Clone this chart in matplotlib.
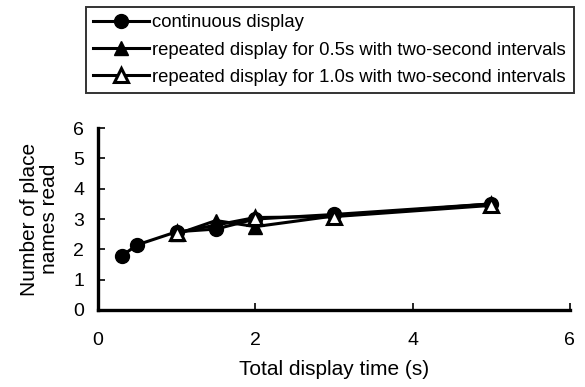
import matplotlib
matplotlib.use("Agg")
import matplotlib.pyplot as plt

plt.rcParams['font.family'] = ['Liberation Sans', 'DejaVu Sans']

# values
cont_x = [0.3, 0.5, 1.0, 1.5, 2.0, 3.0, 5.0]
cont_y = [1.78, 2.15, 2.58, 2.67, 3.0, 3.15, 3.5]
rep05_x = [1.0, 1.5, 2.0, 3.0, 5.0]
rep05_y = [2.5, 2.95, 2.75, 3.1, 3.5]
rep10_x = [1.0, 2.0, 3.0, 5.0]
rep10_y = [2.55, 3.05, 3.08, 3.45]

labels = ['continuous display',
          'repeated display for 0.5s with two-second intervals',
          'repeated display for 1.0s with two-second intervals']

fig = plt.figure(figsize=(5.85, 3.87), dpi=100)
ax = fig.add_axes([0.1675, 0.199, 0.8065, 0.47])

h1, = ax.plot(cont_x, cont_y, color='black', lw=2.2, marker='o', ms=10)
h2, = ax.plot(rep05_x, rep05_y, color='black', lw=2.2, marker='^', ms=10)
h3, = ax.plot(rep10_x, rep10_y, color='black', lw=2.2, marker='^', ms=10,
              markerfacecolor='white', markeredgewidth=2.2)

ax.set_xlim(0, 6)
ax.set_ylim(0, 6)
ax.set_xticks([0, 2, 4, 6])
ax.set_yticks(range(7))
ax.spines['top'].set_visible(False)
ax.spines['right'].set_visible(False)
for s in ['left', 'bottom']:
    ax.spines[s].set_linewidth(2.4)
ax.tick_params(direction='in', length=5, width=1.2, labelsize=14)
ax.tick_params(axis='x', pad=16)
ax.tick_params(axis='y', pad=10)
ax.set_xlabel('Total display time (s)', fontsize=15, labelpad=8)
ax.set_ylabel('Number of place\nnames read', fontsize=15, labelpad=10,
              linespacing=1.1)

leg = fig.legend([h1, h2, h3], labels, loc='upper left',
                 bbox_to_anchor=(86 / 585, 1 - 7 / 387), fontsize=13.3,
                 frameon=True, fancybox=False, edgecolor='black',
                 handlelength=3.0, handletextpad=0.2, borderpad=0.4,
                 labelspacing=0.55, borderaxespad=0)
leg.get_frame().set_linewidth(1.4)

fig.savefig('out.png', dpi=100)
